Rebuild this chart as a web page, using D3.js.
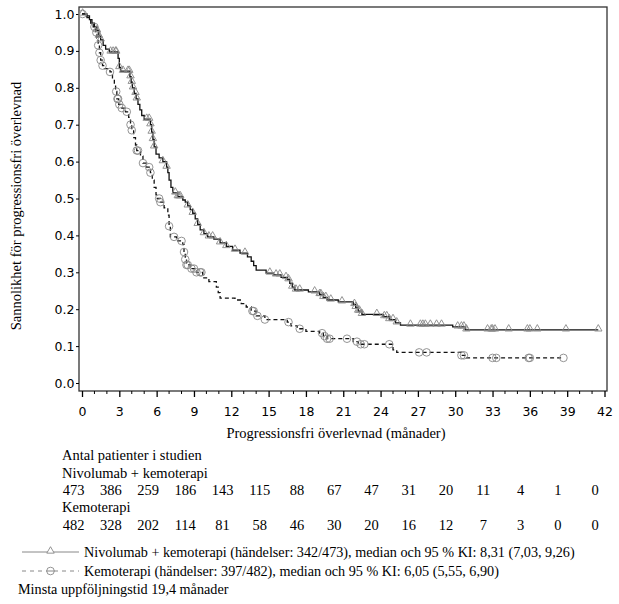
<!DOCTYPE html>
<html>
<head>
<meta charset="utf-8">
<script src="https://cdn.jsdelivr.net/npm/d3@7"></script>
<style>
  body { margin: 0; background: #fff; }
  text { fill: #000; }
</style>
</head>
<body>
<div id="chart"></div>
<script>
// Kaplan-Meier steps: [months, survival]
const nivoSteps = [
  [0, 1.0], [0.4, 0.995], [0.6, 0.985], [0.8, 0.975], [1.0, 0.965], [1.2, 0.955], [1.35, 0.94],
  [1.5, 0.93], [1.7, 0.915], [1.9, 0.905], [2.2, 0.897], [2.9, 0.88], [3.0, 0.855], [3.1, 0.845],
  [3.85, 0.83], [3.95, 0.815], [4.05, 0.80], [4.2, 0.785], [4.35, 0.77], [4.5, 0.755], [4.65, 0.74],
  [4.8, 0.725], [5.0, 0.715], [5.5, 0.70], [5.6, 0.68], [5.7, 0.66], [5.8, 0.64], [5.95, 0.62],
  [6.2, 0.61], [6.5, 0.60], [6.8, 0.585], [6.9, 0.57], [7.0, 0.55], [7.15, 0.53], [7.3, 0.515],
  [7.7, 0.505], [8.1, 0.496], [8.3, 0.49], [8.5, 0.48], [8.7, 0.47], [8.9, 0.46], [9.1, 0.445],
  [9.3, 0.43], [9.5, 0.415], [9.8, 0.405], [10.1, 0.396], [10.6, 0.39], [11.1, 0.38], [11.6, 0.37],
  [12.1, 0.36], [12.7, 0.352], [13.3, 0.342], [13.6, 0.33], [13.8, 0.318], [14.0, 0.306],
  [14.8, 0.298], [15.4, 0.293], [16.0, 0.286], [16.5, 0.28], [16.7, 0.27], [16.9, 0.26],
  [17.1, 0.252], [18.2, 0.247], [19.1, 0.24], [19.4, 0.232], [19.7, 0.225], [20.6, 0.22],
  [21.8, 0.213], [22.0, 0.205], [22.2, 0.195], [22.5, 0.186], [24.2, 0.18], [24.7, 0.172],
  [25.2, 0.163], [25.6, 0.157], [29.8, 0.152], [30.8, 0.144], [41.5, 0.144]
];
const chemoSteps = [
  [0, 1.0], [0.4, 0.99], [0.7, 0.975], [0.9, 0.965], [1.1, 0.95], [1.2, 0.935], [1.3, 0.915],
  [1.4, 0.895], [1.5, 0.875], [1.65, 0.86], [1.8, 0.852], [2.25, 0.843], [2.45, 0.825], [2.6, 0.81],
  [2.7, 0.79], [2.8, 0.77], [2.95, 0.755], [3.2, 0.745], [3.5, 0.735], [3.75, 0.72], [3.9, 0.70],
  [4.0, 0.685], [4.15, 0.665], [4.3, 0.645], [4.4, 0.63], [4.7, 0.615], [4.9, 0.596], [5.2, 0.585],
  [5.5, 0.57], [5.65, 0.55], [5.8, 0.53], [5.95, 0.51], [6.05, 0.50], [6.3, 0.49], [6.6, 0.475],
  [6.9, 0.455], [7.0, 0.425], [7.1, 0.396], [7.6, 0.385], [8.1, 0.375], [8.2, 0.355], [8.3, 0.335],
  [8.4, 0.32], [8.7, 0.31], [9.2, 0.30], [9.7, 0.285], [10.2, 0.275], [10.8, 0.26], [10.95, 0.245],
  [11.1, 0.23], [12.3, 0.225], [12.8, 0.215], [13.2, 0.206], [13.6, 0.195], [14.0, 0.182],
  [14.7, 0.172], [16.5, 0.165], [16.8, 0.155], [17.3, 0.147], [18.0, 0.14], [19.1, 0.135],
  [19.4, 0.127], [19.7, 0.12], [21.8, 0.112], [22.2, 0.105], [25.0, 0.09], [25.3, 0.083],
  [30.5, 0.075], [30.9, 0.068], [38.7, 0.068]
];

// censored observations (months)
const nivoCensor = [0.05, 1.2, 1.35, 1.5, 2.3, 2.5, 2.7, 2.75, 3.0, 3.3, 3.7, 3.8, 3.9, 4.0, 4.1, 4.3,
  4.4, 5.2, 5.4, 5.5, 5.6, 5.7, 5.8, 6.5, 6.8, 7.5, 7.7, 7.8, 7.9, 8.5, 8.9, 9.3, 9.8, 10.2, 10.5,
  11.1, 11.6, 12.3, 13.1, 15.1, 15.6, 15.9, 16.4, 16.6, 16.9, 17.2, 17.5, 18.7, 19.1, 19.2, 19.4,
  19.6, 20.0, 20.9, 21.9, 22.0, 22.2, 22.3, 22.5, 23.7, 24.3, 24.5, 24.7, 25.0, 25.3, 26.4, 27.2,
  27.4, 27.6, 28.0, 28.5, 28.9, 30.2, 30.5, 30.7, 30.9, 32.6, 32.9, 33.0, 33.2, 34.3, 35.8, 36.0,
  36.6, 38.9, 41.5];
const chemoCensor = [0.05, 1.0, 1.15, 1.3, 1.4, 1.5, 1.65, 2.25, 2.75, 2.85, 2.9, 3.0, 3.2, 3.6, 3.9,
  4.0, 4.4, 4.5, 4.9, 5.4, 5.5, 6.2, 6.3, 7.0, 7.4, 8.0, 8.2, 8.3, 8.4, 8.5, 8.8, 9.0, 9.2, 9.5, 9.6,
  13.7, 13.8, 14.1, 14.7, 16.6, 17.5, 19.3, 19.5, 19.7, 19.9, 21.3, 22.1, 22.4, 22.7, 24.7, 27.1,
  27.7, 30.5, 30.7, 33.0, 33.3, 35.9, 36.0, 38.7];

const xTicks = d3.range(0, 43, 3);
const yTicks = d3.range(0, 11).map(i => i / 10);
const riskTimes = xTicks;
const nivoRisk = [473, 386, 259, 186, 143, 115, 88, 67, 47, 31, 20, 11, 4, 1, 0];
const chemoRisk = [482, 328, 202, 114, 81, 58, 46, 30, 20, 16, 12, 7, 3, 0, 0];

const nivoName = "Nivolumab + kemoterapi";
const chemoName = "Kemoterapi";
const nivoLegend = "Nivolumab + kemoterapi (händelser: 342/473), median och 95 % KI: 8,31 (7,03, 9,26)";
const chemoLegend = "Kemoterapi (händelser: 397/482), median och 95 % KI: 6,05 (5,55, 6,90)";

const W = 619, H = 604;
const serif = "'Liberation Serif', 'Times New Roman', serif";
const sans = "'DejaVu Sans', Verdana, sans-serif";
const fs = 14.5;

const svg = d3.select("#chart").append("svg")
  .attr("width", W).attr("height", H);

const frame = { left: 79, right: 607, top: 7, bottom: 391 };

const x = d3.scaleLinear().domain([0, 42]).range([82, 604.5]);
const y = d3.scaleLinear().domain([0, 1]).range([383, 14]);

// frame
svg.append("rect")
  .attr("x", frame.left).attr("y", frame.top)
  .attr("width", frame.right - frame.left).attr("height", frame.bottom - frame.top)
  .attr("fill", "none").attr("stroke", "#333").attr("stroke-width", 1.3);

// x axis
const xAxis = svg.append("g")
  .attr("transform", `translate(0,${frame.bottom})`)
  .call(d3.axisBottom(x).tickValues(xTicks).tickSize(6).tickPadding(10).tickFormat(d3.format("d")));
xAxis.select(".domain").remove();
xAxis.selectAll("line").attr("stroke", "#000").attr("stroke-width", 1.3);
xAxis.selectAll("text").attr("font-family", sans).attr("font-size", 12.5);

// minor ticks every month
svg.append("g").selectAll("line")
  .data(d3.range(0, 43).filter(d => d % 3 !== 0))
  .join("line")
  .attr("x1", d => x(d)).attr("x2", d => x(d))
  .attr("y1", frame.bottom).attr("y2", frame.bottom + 3)
  .attr("stroke", "#000").attr("stroke-width", 1);

// y axis
const yAxis = svg.append("g")
  .attr("transform", `translate(${frame.left},0)`)
  .call(d3.axisLeft(y).tickValues(yTicks).tickSize(3).tickPadding(1.5).tickFormat(d3.format(".1f")));
yAxis.select(".domain").remove();
yAxis.selectAll("line").attr("stroke", "#000");
yAxis.selectAll("text").attr("font-family", sans).attr("font-size", 12.5);

// axis titles
svg.append("text")
  .attr("x", 336)
  .attr("y", 438)
  .attr("text-anchor", "middle")
  .attr("font-family", serif).attr("font-size", fs)
  .text("Progressionsfri överlevnad (månader)");

svg.append("text")
  .attr("transform", "translate(21,206) rotate(-90)")
  .attr("text-anchor", "middle")
  .attr("font-family", serif).attr("font-size", fs)
  .text("Sannolikhet för progressionsfri överlevnad");

// curves
const line = d3.line()
  .x(d => x(d[0]))
  .y(d => y(d[1]))
  .curve(d3.curveStepAfter);

svg.append("path")
  .datum(chemoSteps)
  .attr("d", line)
  .attr("fill", "none").attr("stroke", "#111").attr("stroke-width", 1.3)
  .attr("stroke-dasharray", "4,3");

svg.append("path")
  .datum(nivoSteps)
  .attr("d", line)
  .attr("fill", "none").attr("stroke", "#111").attr("stroke-width", 1.3);

// survival value at time t
const bisect = d3.bisector(d => d[0]).right;
function survAt(steps, t) {
  const i = Math.max(0, bisect(steps, t) - 1);
  return steps[i][1];
}

const tri = d3.symbol(d3.symbolTriangle, 24);
const markColor = "#888";

svg.append("g").selectAll("path")
  .data(nivoCensor)
  .join("path")
  .attr("d", tri)
  .attr("transform", d => `translate(${x(d)},${y(survAt(nivoSteps, d)) - 1})`)
  .attr("fill", "none").attr("stroke", markColor).attr("stroke-width", 0.9);

svg.append("g").selectAll("circle")
  .data(chemoCensor)
  .join("circle")
  .attr("cx", d => x(d))
  .attr("cy", d => y(survAt(chemoSteps, d)))
  .attr("r", 3.8)
  .attr("fill", "none").attr("stroke", markColor).attr("stroke-width", 0.9);

// number at risk table
const riskX = d3.scaleLinear().domain([0, 42]).range([73.5, 595]);
const tableLeft = 62;

svg.append("text")
  .attr("x", tableLeft).attr("y", 460)
  .attr("font-family", serif).attr("font-size", fs)
  .text("Antal patienter i studien");

svg.append("text")
  .attr("x", tableLeft).attr("y", 478)
  .attr("font-family", serif).attr("font-size", fs)
  .text(nivoName);

svg.append("g").selectAll("text")
  .data(nivoRisk)
  .join("text")
  .attr("x", (d, i) => riskX(riskTimes[i]))
  .attr("y", 495)
  .attr("text-anchor", "middle")
  .attr("font-family", serif).attr("font-size", fs)
  .text(d => d);

svg.append("text")
  .attr("x", tableLeft).attr("y", 512)
  .attr("font-family", serif).attr("font-size", fs)
  .text(chemoName);

svg.append("g").selectAll("text")
  .data(chemoRisk)
  .join("text")
  .attr("x", (d, i) => riskX(riskTimes[i]))
  .attr("y", 530)
  .attr("text-anchor", "middle")
  .attr("font-family", serif).attr("font-size", fs)
  .text(d => d);

// legend
const legFs = 14.2;
const legend = svg.append("g").attr("transform", "translate(22,0)");

const leg1 = legend.append("g").attr("transform", "translate(0,552)");
leg1.append("line")
  .attr("x1", 0).attr("x2", 57).attr("y1", 0).attr("y2", 0)
  .attr("stroke", "#888").attr("stroke-width", 1);
leg1.append("path")
  .attr("d", tri)
  .attr("transform", "translate(28.5,-1)")
  .attr("fill", "#fff").attr("stroke", markColor).attr("stroke-width", 0.9);
leg1.append("text")
  .attr("x", 62).attr("y", 5)
  .attr("font-family", serif).attr("font-size", legFs)
  .text(nivoLegend);

const leg2 = legend.append("g").attr("transform", "translate(0,571)");
leg2.append("line")
  .attr("x1", 0).attr("x2", 57).attr("y1", 0).attr("y2", 0)
  .attr("stroke", "#888").attr("stroke-width", 1)
  .attr("stroke-dasharray", "4,4");
leg2.append("circle")
  .attr("cx", 28.5).attr("cy", 0).attr("r", 3.8)
  .attr("fill", "#fff").attr("stroke", markColor).attr("stroke-width", 0.9);
leg2.append("line")
  .attr("x1", 24.5).attr("x2", 32.5).attr("y1", 0).attr("y2", 0)
  .attr("stroke", "#888").attr("stroke-width", 1);
leg2.append("text")
  .attr("x", 62).attr("y", 5)
  .attr("font-family", serif).attr("font-size", legFs)
  .text(chemoLegend);

svg.append("text")
  .attr("x", 18).attr("y", 594)
  .attr("font-family", serif).attr("font-size", 14.2)
  .text("Minsta uppföljningstid 19,4 månader");
</script>
</body>
</html>
